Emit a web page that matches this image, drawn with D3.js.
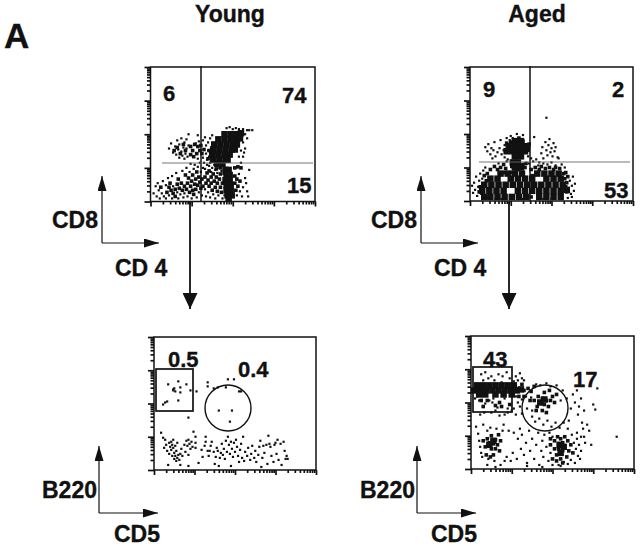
<!DOCTYPE html>
<html>
<head>
    <meta charset="utf-8">
    <title></title>
    <script src="https://d3js.org/d3.v7.min.js"></script>
    <style>
        * { margin: 0; padding: 0; }
        body { background: #fff; }
        text { font-family: "Liberation Sans", Arial, sans-serif; font-weight: bold; fill: #111; stroke: #111; stroke-width: 0.35; }
    </style>
</head>
<body>
    <div id="chart"></div>
    <script>
        // events, in channels: 40 per decade on x, 33 per decade on y
        var decades = [0, 1, 2, 3, 4];
        var minorSteps = [2, 3, 4, 5, 6, 7, 8, 9];

        var youngThymus = [
            [18,52],[20,57],[22,48],[24,54],[25,46],[26,60],[27,51],[28,43],[28,56],[30,49],[30,62],[31,45],[32,53],[33,42],[33,58],[34,47],[35,52],[35,61],[36,44],[37,55],[37,66],[46,65],[51,43],[51,60],[47,59],[46,42],[44,57],
            [53,63],[54,55],[54,47],[55,41],[55,36],[56,58],[56,50],[57,44],[58,62],[58,38],[59,53],[59,47],[60,33],[60,65],[61,57],[52,38],[53,32],[57,35],[62,36],[59,29],[63,31],[65,28],[67,33],[69,30],[71,27],[88,38],[90,44],[92,52],[90,58],[94,62],[92,66],[88,50],[86,44],[96,70],[74,72],[77,73],[80,71],[83,72],[86,71],[90,71],[94,70],[99,70],[89,63],[91,48],
            [3,8],[5,15],[6,5],[7,18],[8,11],[9,3],[11,8],[12,20],[13,5],[15,16],[15,3],[17,23],[18,6],[21,3],[21,25],[22,15],[25,28],[26,9],[27,3],[29,7],[31,30],[32,4],[33,8],[35,33],[36,5],[38,29],[39,37],[40,3],[42,32],[43,36],[45,4],[46,34],[47,9],[48,38],[49,29],[50,6],[51,33],
            [53,12],[54,5],[56,9],[58,4],[61,7],[63,3],[66,6],[70,3],[72,6],[84,6],[87,10],[89,5],[94,10],[95,5],[93,18],[96,31],[90,14],[92,23],[86,27]
        ];
        var youngThymusClumps = [
            [39,46],[41,50],[39,54],[43,56],[46,54],[48,50],[45,47],[42,44],[50,47],[49,55],[52,51],[29,47],[26,53],[23,50],[32,56],[34,50],
            [10,14],[16,9],[18,14],[20,11],[19,18],[22,8],[24,12],[24,5],[26,17],[27,22],[28,13],[30,18],[31,11],[33,15],[34,26],[35,12],[36,18],[37,23],[38,9],[39,15],[40,20],[41,11],[41,26],[42,7],[43,17],[44,22],[44,12],[45,29],[46,16],[47,24],[48,19],[49,13],[50,22],[51,15],
            [53,24],[54,18],[55,28],[56,21],[57,15],[57,30],[59,18],[59,24],[60,11],[61,27],[62,20],[63,14],[64,24],[65,10],[65,18],[67,22],[68,14],[68,27],[69,9],[70,18],[82,25],[82,18],[83,11],[84,22],[85,15],[87,20],
            [56,42],[60,42],[62,48],[57,50],[64,32],[68,33],[82,33],[85,34],[88,33]
        ];
        var youngThymusDense = [
            [72,66],[78,66],[84,66],[88,67],[66,61],[72,61],[78,61],[84,61],[87,62],[62,56],[68,56],[74,56],[80,56],[84,56],[61,51],[67,51],[73,51],[79,51],[82,51],[60,46],[66,46],[72,46],[77,46],[61,41],[67,41],[73,41],[75,41],[65,37],[70,37],
            [73,31],[76,31],[74,26],[77,26],[73,21],[77,21],[74,16],[78,16],[74,11],[78,11],[75,6],[79,6],[76,3]
        ];

        var agedThymus = [
            [15,53],[17,49],[18,56],[20,46],[21,52],[22,42],[23,50],[24,58],[25,44],[27,48],[29,52],[30,60],[31,46],[33,50],[34,43],[34,55],[35,48],[36,62],[37,41],[39,60],[40,64],[42,62],[46,66],[52,65],[63,63],[62,39],[60,42],[57,44],
            [70,47],[71,53],[72,42],[74,58],[75,50],[76,45],[77,55],[78,61],[79,48],[80,52],[81,44],[82,57],[83,49],[84,53],[86,43],[75,82],[87,42],[68,38],[72,37],[76,36],[80,38],[84,35],[90,36],[93,33],[65,41],[67,35],
            [2,15],[3,8],[4,18],[5,11],[6,24],[7,5],[8,14],[9,20],[10,27],[11,7],[12,22],[13,30],[15,33],[18,3],[25,2],[28,37],[31,2],[36,39],[40,2],[52,2],[58,37],[66,2],[72,2],[80,2],[88,3],
            [97,12],[98,20],[99,7],[100,15],[101,24],[102,10],[103,17],[100,4],[96,3]
        ];
        var agedThymusClumps = [
            [36,57],[39,50],[40,58],[44,60],[48,62],[52,59],[55,55],[57,50],[58,56],[35,50],[53,48],
            [14,25],[17,27],[20,31],[24,34],[27,31],[30,33],[33,36],[35,32],[41,34],[47,31],[50,35],[54,33],[60,31],[64,33],[68,31],[70,34],[74,32],[78,33],[82,31],[84,33],[88,32],[92,27],[93,22],[94,28],[95,18],[96,24],
            [16,20],[18,12],[10,14],[9,9],[61,25],[34,28],[60,4],[62,22],[94,14],[95,9],[40,28],[55,37],[46,32],[52,36],[44,38]
        ];
        var agedThymusDense = [
            [44,59],[50,59],[38,54],[44,54],[50,54],[56,54],[36,49],[42,49],[48,49],[54,49],[44,44],[50,44],[42,38],[47,38],[44,33],[50,33],
            [14,4],[20,4],[27,4],[34,4],[41,4],[48,4],[55,4],[68,4],[75,4],[82,4],[89,4],
            [12,10],[19,10],[26,10],[33,10],[47,10],[54,10],[61,10],[68,10],[75,10],[82,10],[89,10],[95,11],
            [14,16],[21,16],[28,16],[35,16],[42,16],[49,16],[56,16],[63,16],[70,16],[77,16],[84,16],[91,16],
            [20,22],[27,22],[40,22],[47,22],[54,22],[61,22],[75,22],[82,22],[89,22],
            [30,27],[37,27],[44,27],[51,27],[66,27],[73,27],[80,27],[87,27]
        ];

        var youngSpleen = [
            [14,85],[19,80],[21,78],[24,88],[26,82],[32,85],[36,79],[24,69],[13,68],[11,67],[9,65],[26,77],[19,79],[20,81],[42,78],[53,87],[53,83],[59,81],[63,82],[71,82],[73,90],[79,90],[84,78],[86,78],[64,59],[77,59],[75,48],[34,52],
            [7,37],[9,32],[10,22],[11,30],[12,25],[13,19],[14,5],[15,27],[15,16],[16,23],[17,28],[17,20],[18,14],[18,25],[19,22],[19,30],[20,17],[20,11],[21,24],[21,14],[22,19],[22,9],[23,12],[23,27],[24,15],[25,10],[26,16],[26,5],[27,21],[28,14],[30,25],[31,18],[32,29],[33,24],[34,30],[34,15],[35,26],[36,21],[37,28],[38,23],[39,38],[41,33],[41,27],[41,22],[34,4],[44,7],[48,13],[47,20],[50,24],[51,28],[51,33],[53,19],[54,14],[55,19],[56,24],[57,28],[59,18],[60,6],[61,13],[62,22],[63,19],[64,4],[65,12],[66,17],[67,26],[68,15],[69,21],[70,11],[71,29],[72,18],[73,33],[74,25],[75,16],[76,4],[76,28],[77,21],[78,13],[79,27],[80,18],[81,30],[82,23],[83,14],[84,8],[85,20],[86,26],[87,12],[88,33],[89,9],[90,18],[92,14],[93,22],[95,10],[96,16],[97,24],[99,12],[100,19],[101,8],[103,15],[104,23],[105,29],[106,3],[107,12],[108,24],[109,17],[111,25],[112,6],[113,34],[114,26],[115,23],[116,14],[118,8],[119,25],[120,27],[121,16],[122,30],[123,10],[125,26],[126,5],[128,28],[129,19],[130,11],[131,14],[132,11]
        ];
        var youngSpleenClumps = [];
        var youngSpleenDense = [];

        var agedSpleen = [
            [10,94],[12,88],[14,96],[17,90],[20,92],[23,88],[27,94],[30,86],[31,92],[35,96],[38,90],[42,87],[44,92],[46,88],[48,95],[50,90],[52,88],
            [4,70],[8,68],[14,65],[18,68],[22,70],[26,61],[32,72],[36,60],[6,72],[21,66],[33,70],
            [44,72],[46,66],[48,62],[50,69],[54,72],[55,60],[59,71],[60,58],[40,58],[36,56],[33,54],[28,53],[24,58],[20,56],[13,56],[9,54],[44,54],[50,55],[42,60],
            [64,84],[68,83],[74,85],[78,82],[84,83],[90,78],[88,68],[94,70],[96,48],[60,52],[63,47],[67,50],[71,44],[75,48],[79,42],[83,46],[87,41],[91,46],[95,40],[98,60],[100,74],[102,66],[104,78],[106,62],[108,70],[105,54],[109,46],[111,58],
            [124,80],[120,64],[122,59],[143,32],[104,36],[108,32],[112,26],[116,38],[114,44],[111,32],[118,24],[110,40],
            [5,42],[7,35],[8,28],[9,22],[10,16],[11,12],[12,44],[16,38],[17,10],[19,41],[23,8],[25,40],[29,4],[31,38],[32,44],[35,12],[37,38],[39,8],[41,16],[42,36],[45,10],[46,30],[48,40],[49,20],[50,34],[52,14],[54,26],[55,6],[57,38],[58,18],[60,30],[62,10],[64,24],[66,36],[67,4],[69,18],[70,28],[71,12],[72,34],
            [74,22],[76,8],[77,36],[78,16],[80,4],[80,32],[86,4],[88,3],[91,7],[95,5],[98,9],[99,34],[101,26],[102,6],[103,20],[104,30],[105,13],[106,24],[107,10],[108,18],[33,8],[24,2],[16,4],[55,3],[70,2]
        ];
        var agedSpleenClumps = [
            [52,78],[56,80],[59,77],[62,82],[50,84],[47,72],[52,72],[58,68],
            [62,68],[65,62],[68,66],[70,70],[72,64],[74,68],[76,62],[78,68],[66,72],[80,72],[72,76],[77,78],[82,66],[70,58],[74,56],[84,74],[64,58],
            [12,28],[14,22],[16,30],[18,26],[20,20],[20,33],[22,25],[24,29],[24,20],[26,24],[27,34],[28,18],[15,14],[19,12],[22,14],[29,28],
            [10,68],[16,68],[28,66],[38,64],[12,62],[24,63],[30,62],
            [82,28],[85,32],[88,30],[90,26],[92,32],[95,28],[98,24],[82,20],[84,14],[80,10],[88,10],[90,6],[94,12],[96,18],[100,16],[78,24],[86,20],[90,18],[84,8],[78,30]
        ];
        var agedSpleenDense = [
            [6,83],[12,83],[18,83],[24,83],[30,83],[36,83],[42,83],[3,78],[9,78],[15,78],[21,78],[27,78],[33,78],[39,78],[45,78],[49,79],[8,74],[14,74],[24,74],[32,74],[40,74],
            [68,66],[72,69],[87,24],[91,22],[88,16],[18,24],[22,28]
        ];

        var panels = [
            { events: youngThymus, clumps: youngThymusClumps, dense: youngThymusDense, box: [150.5, 315, 67, 201.5], quadV: 201, quadH: 163, quadHx: [162, 313],
              counts: [["6", 163, 101], ["74", 282, 103], ["15", 287, 193]] },
            { events: agedThymus, clumps: agedThymusClumps, dense: agedThymusDense, box: [470, 633, 67, 201], quadV: 530, quadH: 162, quadHx: [479, 630],
              counts: [["9", 483, 97], ["2", 612, 97], ["53", 604, 198]] },
            { events: youngSpleen, clumps: youngSpleenClumps, dense: youngSpleenDense, box: [154, 316, 337, 470], gateRect: [156, 369, 37, 42], gateCircle: [228, 408, 23],
              counts: [["0.5", 168, 367], ["0.4", 238, 377]] },
            { events: agedSpleen, clumps: agedSpleenClumps, dense: agedSpleenDense, box: [471, 634, 336, 469], gateRect: [473, 367, 39, 45], gateCircle: [545, 408, 23],
              counts: [["43", 483, 367], ["17", 573, 387]] }
        ];

        var svg = d3.select("#chart").append("svg")
            .attr("width", 640)
            .attr("height", 546);

        var defs = svg.append("defs");
        defs.append("marker")
            .attr("id", "head")
            .attr("viewBox", "0 0 15 9")
            .attr("refX", 15).attr("refY", 4.5)
            .attr("markerWidth", 15).attr("markerHeight", 9)
            .attr("markerUnits", "userSpaceOnUse")
            .attr("orient", "auto")
            .append("path").attr("d", "M0,0L15,4.5L0,9Z").attr("fill", "#111");
        defs.append("marker")
            .attr("id", "bigHead")
            .attr("viewBox", "0 0 16 15")
            .attr("refX", 16).attr("refY", 7.5)
            .attr("markerWidth", 16).attr("markerHeight", 15)
            .attr("markerUnits", "userSpaceOnUse")
            .attr("orient", "auto")
            .append("path").attr("d", "M0,0L16,7.5L0,15Z").attr("fill", "#111");

        function drawPanel(p) {
            var x = d3.scaleLinear().domain([0, 160]).range([p.box[0], p.box[1]]);
            var y = d3.scaleLinear().domain([0, 132]).range([p.box[3], p.box[2]]);
            var g = svg.append("g");

            var minorX = [], minorY = [];
            decades.slice(0, 4).forEach(function (d) {
                minorSteps.forEach(function (k) {
                    minorX.push((d + Math.log10(k)) * 40);
                    minorY.push((d + Math.log10(k)) * 33);
                });
            });
            var majorX = decades.map(function (d) { return d * 40; });
            var majorY = decades.map(function (d) { return d * 33; });

            function axis(gen, values, size, pos, isX) {
                var a = g.append("g")
                    .attr("transform", isX ? "translate(0," + pos + ")" : "translate(" + pos + ",0)")
                    .call(gen.tickValues(values).tickSize(size).tickFormat(""));
                a.select(".domain").remove();
                a.selectAll("line").attr("stroke", "#111").attr("stroke-width", 1.7);
            }
            axis(d3.axisBottom(x), minorX, 3, p.box[3], true);
            axis(d3.axisBottom(x), majorX, 5, p.box[3], true);
            axis(d3.axisLeft(y), minorY, 3.5, p.box[0], false);
            axis(d3.axisLeft(y), majorY, 6, p.box[0], false);

            // three sizes of square: lone events, small clumps, solid areas
            function dots(list, size) {
                g.append("g").selectAll("rect").data(list).enter().append("rect")
                    .attr("x", function (d) { return x(d[0]) - size / 2; })
                    .attr("y", function (d) { return y(d[1]) - size / 2; })
                    .attr("width", size).attr("height", size)
                    .attr("fill", "#111");
            }
            dots(p.events, 2.2);
            dots(p.clumps, 3.6);
            dots(p.dense, 6.5);

            g.append("rect")
                .attr("x", p.box[0]).attr("y", p.box[2])
                .attr("width", p.box[1] - p.box[0]).attr("height", p.box[3] - p.box[2])
                .attr("fill", "none").attr("stroke", "#111").attr("stroke-width", 1.5);

            if (p.quadV) {
                g.append("line")
                    .attr("x1", p.quadV).attr("x2", p.quadV)
                    .attr("y1", p.box[2] - 1).attr("y2", p.box[3])
                    .attr("stroke", "#111").attr("stroke-width", 1.5);
                g.append("line")
                    .attr("x1", p.quadHx[0]).attr("x2", p.quadHx[1])
                    .attr("y1", p.quadH).attr("y2", p.quadH)
                    .attr("stroke", "#666").attr("stroke-width", 0.9);
            }
            if (p.gateRect) {
                g.append("rect")
                    .attr("x", p.gateRect[0]).attr("y", p.gateRect[1])
                    .attr("width", p.gateRect[2]).attr("height", p.gateRect[3])
                    .attr("fill", "none").attr("stroke", "#111").attr("stroke-width", 1.7);
                g.append("circle")
                    .attr("cx", p.gateCircle[0]).attr("cy", p.gateCircle[1]).attr("r", p.gateCircle[2])
                    .attr("fill", "none").attr("stroke", "#111").attr("stroke-width", 1.4);
            }

            g.selectAll(".count").data(p.counts).enter().append("text")
                .attr("class", "count")
                .attr("x", function (d) { return d[1]; })
                .attr("y", function (d) { return d[2]; })
                .attr("font-size", 22)
                .text(function (d) { return d[0]; });
        }
        panels.forEach(drawPanel);

        // axis key: vertical and horizontal arrow with their two labels
        function axisKey(ox, oy, top, right, yLabel, yLabelX, yLabelY, xLabel, xLabelX, xLabelY) {
            svg.append("line")
                .attr("x1", ox).attr("y1", oy).attr("x2", ox).attr("y2", top)
                .attr("stroke", "#111").attr("stroke-width", 1.2).attr("marker-end", "url(#head)");
            svg.append("line")
                .attr("x1", ox).attr("y1", oy).attr("x2", right).attr("y2", oy)
                .attr("stroke", "#111").attr("stroke-width", 1.2).attr("marker-end", "url(#head)");
            svg.append("text").attr("x", yLabelX).attr("y", yLabelY).attr("font-size", 23).text(yLabel);
            svg.append("text").attr("x", xLabelX).attr("y", xLabelY).attr("font-size", 23).text(xLabel);
        }
        axisKey(102, 243, 176, 159, "CD8", 52, 228, "CD 4", 115, 276);
        axisKey(421, 243, 176, 478, "CD8", 371, 228, "CD 4", 434, 276);
        axisKey(99, 513, 446, 158, "B220", 42, 498, "CD5", 114, 542);
        axisKey(417, 513, 446, 476, "B220", 360, 498, "CD5", 431, 542);

        [190, 509].forEach(function (ax) {
            svg.append("line")
                .attr("x1", ax).attr("y1", 202).attr("x2", ax).attr("y2", 309)
                .attr("stroke", "#111").attr("stroke-width", 1.8).attr("marker-end", "url(#bigHead)");
        });

        svg.append("text").attr("x", 4).attr("y", 48).attr("font-size", 35).text("A");
        svg.append("text").attr("x", 230).attr("y", 22).attr("font-size", 23).attr("text-anchor", "middle").text("Young");
        svg.append("text").attr("x", 537).attr("y", 22).attr("font-size", 23).attr("text-anchor", "middle").text("Aged");
    </script>
</body>
</html>
